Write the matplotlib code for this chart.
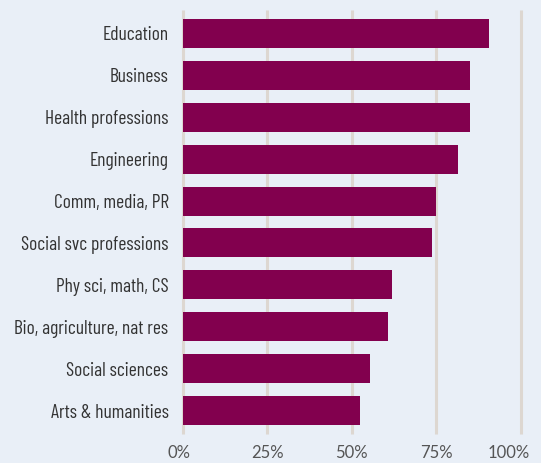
import matplotlib.pyplot as plt
from matplotlib.transforms import ScaledTranslation

# share of grads by field (%)
fields = ['Education', 'Business', 'Health professions', 'Engineering',
          'Comm, media, PR', 'Social svc professions', 'Phy sci, math, CS',
          'Bio, agriculture, nat res', 'Social sciences', 'Arts & humanities']
values = [90.6, 85.0, 85.0, 81.5, 75.0, 73.8, 61.9, 60.8, 55.4, 52.5]
ticks = [0, 25, 50, 75, 100]
tick_labels = ['0%', '25%', '50%', '75%', '100%']

bg = '#e9eff7'
fig = plt.figure(figsize=(5.41, 4.63), dpi=100, facecolor=bg)
ax = fig.add_axes([182.5 / 541, 29 / 463, 338.2 / 541, 424 / 463])
ax.set_facecolor(bg)

pos = list(range(len(fields)))
ax.vlines(ticks, -0.56, len(fields) - 0.44, colors='#ddd7d1', linewidth=2.2,
          zorder=1, clip_on=False)
ax.barh(pos, values, height=0.69, color='#82004e', zorder=2)

ax.set_xlim(0, 100)
ax.set_ylim(len(fields) - 0.44, -0.56)
ax.set_yticks(pos)
ax.set_yticklabels(fields, fontsize=14, color='#333333',
                   family='Barlow Condensed')
ax.set_xticks(ticks)
ax.set_xticklabels(tick_labels, fontsize=12, color='#555555', family='Lato')
ax.tick_params(length=0)
ax.tick_params(axis='y', pad=10)
ax.tick_params(axis='x', pad=8)
for s in ax.spines.values():
    s.set_visible(False)

# end labels sit a bit inward in the original
xl = ax.get_xticklabels()
xl[0].set_transform(xl[0].get_transform() + ScaledTranslation(-0.04, 0, fig.dpi_scale_trans))
xl[-1].set_transform(xl[-1].get_transform() + ScaledTranslation(-0.12, 0, fig.dpi_scale_trans))

fig.savefig('out.png', dpi=100, facecolor=bg)
